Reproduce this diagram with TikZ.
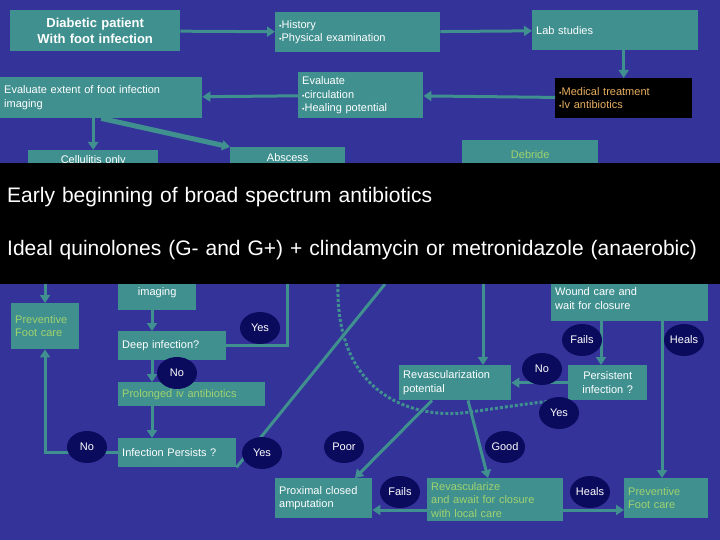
\documentclass[tikz,border=0pt]{standalone}
\usepackage{fontspec}
\setmainfont{Liberation Sans}
\usetikzlibrary{arrows.meta,shapes.geometric}
\definecolor{bgblue}{RGB}{51,51,153}
\definecolor{teal2}{RGB}{64,144,144}
\definecolor{navy}{RGB}{11,11,94}
\definecolor{lgreen}{RGB}{160,210,110}
\definecolor{orng}{RGB}{232,176,96}
\tikzset{
  box/.style={fill=teal2, anchor=north west, inner sep=4pt, font=\fontsize{11}{13.5}\selectfont, text=white, align=left},
  dark/.style={box, fill=black, text=orng},
  grn/.style={text=lgreen},
  ans/.style={ellipse, fill=navy, text=white, minimum width=40pt, minimum height=32pt, inner sep=0pt, font=\fontsize{11}{13}\selectfont},
  link/.style={draw=teal2, line width=3pt, -{Triangle[width=10pt,length=8pt]}},
  line/.style={draw=teal2, line width=3pt}
}
\newcommand{\bul}{{\scriptsize\textbullet}}
% box: name, x, y, width, height, style, text
\newcommand{\bx}[7]{\node[box,#6,minimum width=#4pt,minimum height=#5pt,text width=\dimexpr#4pt-8pt\relax] (#1) at (#2,#3) {#7};}
\begin{document}
\begin{tikzpicture}[x=1pt,y=-1pt]
  \fill[bgblue] (0,0) rectangle (720,540);
  \useasboundingbox (0,0) rectangle (720,540);

  % top row
  \bx{diab}{10}{10}{170}{41}{align=center,font=\bfseries\fontsize{13}{16}\selectfont}{Diabetic patient\\With foot infection}
  \bx{hist}{275}{12}{165}{40}{}{\bul History\\\bul Physical examination}
  \bx{lab}{532}{10}{166}{40}{}{Lab studies}
  \bx{med}{555}{78}{137}{40}{dark}{\bul Medical treatment\\\bul Iv antibiotics}
  \bx{eval}{298}{72}{125}{46}{}{Evaluate\\\bul circulation\\\bul Healing potential}
  \bx{ext}{0}{77}{202}{41}{}{Evaluate extent of foot infection\\imaging}
  \bx{cell}{28}{150}{130}{20}{align=center}{Cellulitis only}
  \bx{absc}{230}{147}{115}{20}{align=center}{Abscess}
  \bx{debr}{462}{140}{136}{28}{align=center,grn}{Debride}

  % lower part
  \bx{imag}{118}{270}{78}{40}{align=center}{\\imaging}
  \bx{prev1}{11}{303}{68}{46}{grn}{Preventive\\Foot care}
  \bx{deep}{118}{331}{108}{29}{}{Deep infection?}
  \bx{prol}{118}{382}{147}{24}{grn}{Prolonged iv antibiotics}
  \bx{inf}{118}{438}{118}{29}{}{Infection Persists ?}
  \bx{wound}{551}{270}{157}{51}{}{\\Wound care and\\wait for closure}
  \bx{revp}{399}{365}{112}{35}{}{Revascularization\\potential}
  \bx{pers}{568}{365}{79}{35}{align=center}{Persistent\\infection ?}
  \bx{prox}{275}{478}{97}{40}{}{Proximal closed\\amputation}
  \bx{revz}{427}{478}{136}{40}{grn}{Revascularize\\and await for closure\\with local care}
  \bx{prev2}{624}{478}{84}{40}{grn}{Preventive\\Foot care}

  \coordinate (bL) at (45,284);
  \coordinate (bY) at (287,284);
  \coordinate (bD) at (385,284);
  \coordinate (bC) at (338,284);
  \coordinate (bR) at (483,284);
  \coordinate (mid) at (152,0);

  % connectors, top
  \draw[link] (diab) -- (hist);
  \draw[link] (hist) -- (lab);
  \draw[link] (lab.south -| med) -- (med);
  \draw[link] (med) -- (eval);
  \draw[link] (eval) -- (ext);
  \draw[link] (cell.north |- ext.south) -- (cell.north);
  \draw[link, line width=5pt] (ext.south) -- (absc.north west);

  % connectors, bottom
  \draw[link] (bL) -- (bL |- prev1.north);
  \draw[link] (imag.south -| mid) -- (deep.north -| mid);
  \draw[line] (deep.east) -| (bY);
  \draw[link] (deep.south -| mid) -- (prol.north -| mid);
  \draw[link] (prol.south -| mid) -- (inf.north -| mid);
  \draw[link] (inf.west) -| (bL |- prev1.south);
  \draw[line] (inf.south east) -- (bD);
  \draw[teal2, line width=3pt, dotted] (bC) .. controls (335,400) and (420,420) .. (470,412)
    .. controls (520,405) and (550,400) .. (pers.south west);
  \draw[link] (bR) -- (bR |- revp.north);
  \draw[link] (wound.south -| 601,0) -- (pers.north -| 601,0);
  \draw[link] (wound.south -| 662,0) -- (prev2.north -| 662,0);
  \draw[link] (pers.west) -- (revp.east);
  \draw[link] (revp.south west) ++(33,0) -- (355,478);
  \draw[link] (revp.south west) ++(69,0) -- (488,478);
  \draw[link] (revz.west |- 0,510) -- (prox.east |- 0,510);
  \draw[link] (revz.east |- 0,510) -- (prev2.west |- 0,510);

  % answers
  \node[ans] (yes1) at (260,328) {Yes};
  \node[ans] (no1) at (177,373) {No};
  \node[ans] (no2) at (87,447) {No};
  \node[ans] (yes2) at (262,453) {Yes};
  \node[ans] (poor) at (344,447) {Poor};
  \node[ans] (good) at (505,447) {Good};
  \node[ans] (fail1) at (582,340) {Fails};
  \node[ans] (heal1) at (684,340) {Heals};
  \node[ans] (no3) at (542,369) {No};
  \node[ans] (yes3) at (559,413) {Yes};
  \node[ans] (fail2) at (400,492) {Fails};
  \node[ans] (heal2) at (590,492) {Heals};

  % banner
  \node[fill=black, text=white, anchor=north west, minimum width=720pt, minimum height=121pt,
    text width=706pt, inner sep=7pt, align=left, font=\fontsize{21}{27}\selectfont] (ban) at (0,163)
    {Early beginning of broad spectrum antibiotics\\[26pt]
     Ideal quinolones (G- and G+) + clindamycin or metronidazole (anaerobic)};
\end{tikzpicture}
\end{document}
